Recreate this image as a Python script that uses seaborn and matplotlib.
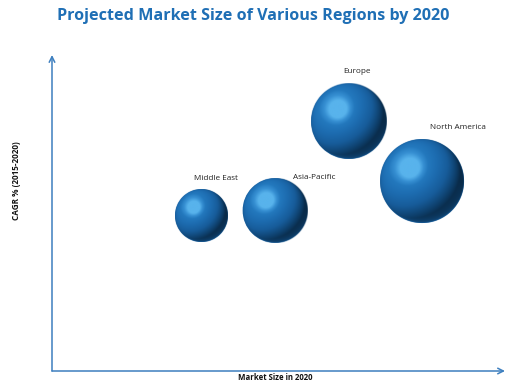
import numpy as np
import pandas as pd
import matplotlib
matplotlib.use("Agg")
import matplotlib.pyplot as plt
import seaborn as sns
from matplotlib.transforms import ScaledTranslation, Affine2D
from matplotlib.colors import LinearSegmentedColormap

# ---- data ----
regions = ["Middle East", "Asia-Pacific", "Europe", "North America"]
market_size = [33.0, 49.2, 65.5, 81.7]
cagr = [49.2, 50.8, 79.0, 60.1]
bubble_size = [7.0, 10.4, 14.1, 17.6]

# label offsets (points) relative to bubble centre – styling only
label_dx = [10.4, 28.0, 6.1, 25.9]
label_dy = [26.5, 23.6, 35.6, 38.9]

df = pd.DataFrame({"Region": regions, "Market Size": market_size,
                   "CAGR": cagr, "Bubble": bubble_size})

sns.set_style("white")
plt.rcParams["font.family"] = ["Open Sans", "DejaVu Sans"]

fig = plt.figure(figsize=(5.16, 3.89), dpi=100)
ax = fig.add_axes([52 / 516, 18 / 389, 453 / 516, 316 / 389])

k = 207.36  # points^2 per bubble unit
bmin, bmax = min(bubble_size), max(bubble_size)
sns.scatterplot(data=df, x="Market Size", y="CAGR", size="Bubble",
                sizes=(k * bmin, k * bmax), size_norm=(bmin, bmax),
                color="#1c64a3", linewidth=0, legend=False, ax=ax, zorder=3)

# sphere shading texture
cmap = LinearSegmentedColormap.from_list(
    "sphere", [(0.0, "#071c30"), (0.25, "#0d3c66"), (0.5, "#175c9a"),
               (0.7, "#1d6cb0"), (0.85, "#2378bd"), (0.93, "#368fd2"),
               (1.0, "#58b3ec")])


def sphere_rgba(r_px, n=240):
    u = np.linspace(-1, 1, n)
    U, V = np.meshgrid(u, -u)
    d = np.sqrt(U ** 2 + V ** 2)
    W = np.sqrt(np.clip(1 - d ** 2, 0, 1))
    L = np.array([-0.42, 0.46, 0.78])
    L /= np.linalg.norm(L)
    diff = np.clip(U * L[0] + V * L[1] + W * L[2], 0, 1)
    H = L + np.array([0, 0, 1.0])
    H /= np.linalg.norm(H)
    spec = np.clip(U * H[0] + V * H[1] + W * H[2], 0, 1) ** 14
    rim = (1 - W) ** 2 * np.clip(-V, 0, 1) * 0.35
    inten = np.clip(0.82 * diff + 0.16 * spec + rim + 0.12, 0, 1)
    rgba = cmap(inten)
    rgba[..., 3] = np.clip((1 - d) * r_px + 0.5, 0, 1)
    return rgba


for x, y, v in zip(market_size, cagr, bubble_size):
    r_pt = np.sqrt(k * v) / 2.0
    tr = (Affine2D().scale(1 / 72) + fig.dpi_scale_trans
          + ScaledTranslation(x, y, ax.transData))
    ax.imshow(sphere_rgba(r_pt / 0.72), extent=(-r_pt, r_pt, -r_pt, r_pt),
              transform=tr, interpolation="bilinear", zorder=4)

ax.set_aspect("auto")
ax.set_xlim(0, 100)
ax.set_ylim(0, 100)

for x, y, name, dx, dy in zip(market_size, cagr, regions, label_dx, label_dy):
    ax.annotate(name, (x, y), xytext=(dx, dy), textcoords="offset points",
                ha="center", va="center", fontsize=5.9, color="#222222")

# axes arrows
axis_col = "#3d7fbf"
ax.annotate("", xy=(0, 1), xytext=(0, 0), xycoords="axes fraction",
            arrowprops=dict(arrowstyle="->", color=axis_col, lw=1.1,
                            shrinkA=0, shrinkB=0), annotation_clip=False)
ax.annotate("", xy=(1, 0), xytext=(0, 0), xycoords="axes fraction",
            arrowprops=dict(arrowstyle="->", color=axis_col, lw=1.1,
                            shrinkA=0, shrinkB=0), annotation_clip=False)
for s in ax.spines.values():
    s.set_visible(False)
ax.set_xticks([])
ax.set_yticks([])
ax.set_xlabel("")
ax.set_ylabel("")

fig.text(275 / 516, 1 - 378 / 389, "Market Size in 2020", ha="center",
         va="center", fontsize=5.6, fontweight="bold", color="#111111")
fig.text(17 / 516, 1 - 181 / 389, "CAGR % (2015-2020)", ha="center",
         va="center", fontsize=5.9, fontweight="bold", rotation=90,
         color="#111111")
fig.text(253 / 516, 1 - 16 / 389,
         "Projected Market Size of Various Regions by 2020", ha="center",
         va="center", fontsize=11.6, fontweight="bold", color="#1f6fb5")

fig.savefig("out.png", dpi=100)
